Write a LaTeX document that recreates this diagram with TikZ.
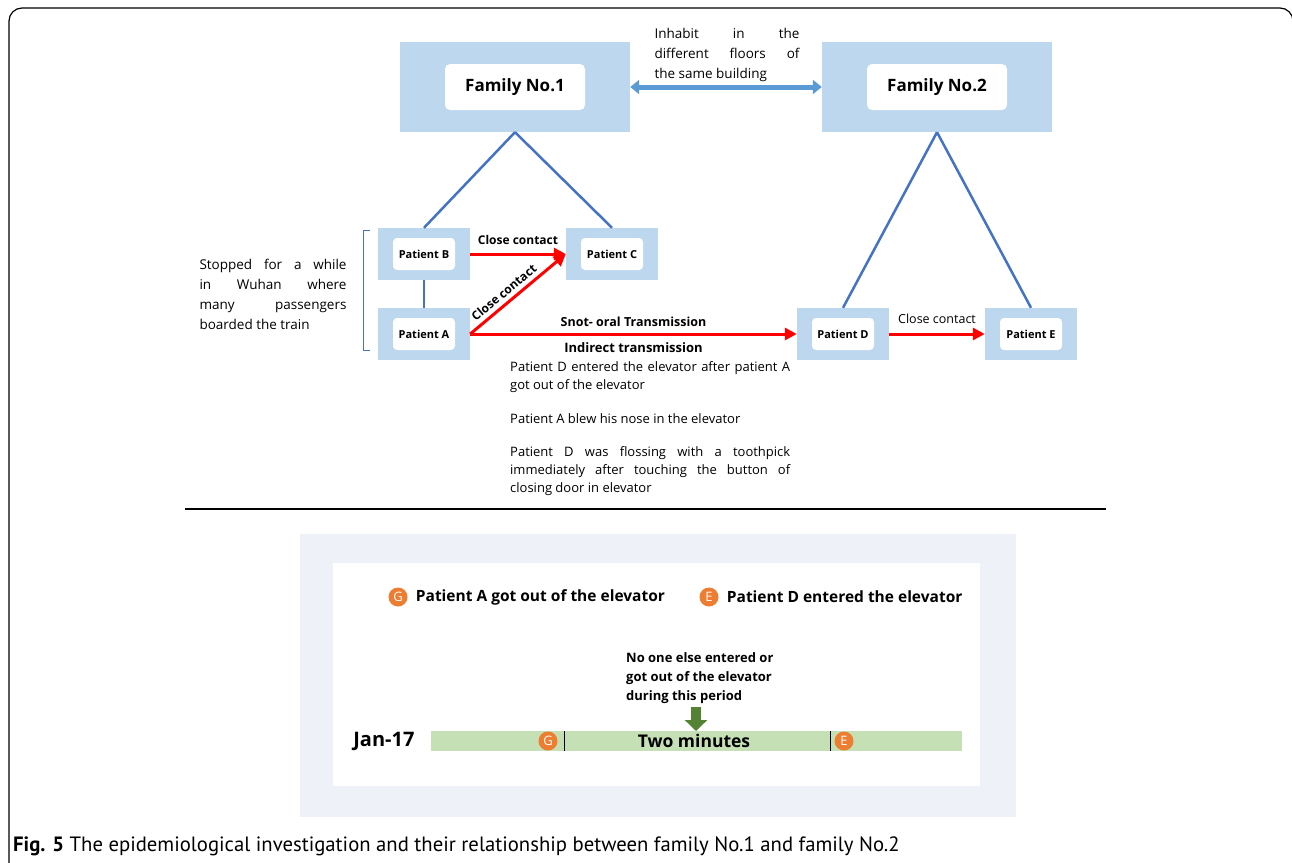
\documentclass[tikz,border=0pt]{standalone}
\usepackage{fontspec}
\setmainfont{Open Sans}
\newfontfamily\capfont{PT Sans}
\usetikzlibrary{arrows.meta,positioning,shapes}

\definecolor{boxblue}{RGB}{189,215,238}
\definecolor{linkblue}{RGB}{68,114,196}
\definecolor{arrowblue}{RGB}{91,155,213}
\definecolor{panelgray}{RGB}{238,242,248}
\definecolor{bargreen}{RGB}{197,224,180}
\definecolor{darkgreen}{RGB}{84,130,53}
\definecolor{markorange}{RGB}{237,125,49}

\hyphenpenalty=10000
\exhyphenpenalty=10000

\begin{document}
\begin{tikzpicture}[x=1pt,y=-1pt]
	\tikzstyle{fambox}=[fill=boxblue, rectangle, minimum width=230, minimum height=90]
	\tikzstyle{famtxt}=[fill=white, rounded corners=5pt, minimum width=140, minimum height=46, font=\fontsize{17}{20}\selectfont\bfseries]
	\tikzstyle{patbox}=[fill=boxblue, rectangle, minimum width=92, minimum height=52]
	\tikzstyle{pattxt}=[fill=white, rounded corners=4pt, minimum width=62, minimum height=32, font=\fontsize{11}{13}\selectfont\bfseries]
	\tikzstyle{link}=[draw=linkblue, line width=2.5pt]
	\tikzstyle{infect}=[draw=red, line width=3pt, -{Triangle[length=12pt,width=12pt]}]
	\tikzstyle{lbl}=[font=\fontsize{12}{15}\selectfont\bfseries, inner sep=2pt]
	\tikzstyle{note}=[font=\fontsize{13}{18}\selectfont, text width=280, align=justify, inner sep=0pt, anchor=north west]
	\tikzstyle{markdot}=[circle, fill=markorange, text=white, inner sep=0pt, minimum size=19, font=\fontsize{13}{13}\selectfont]
	\tikzstyle{legtxt}=[font=\fontsize{15.5}{18}\selectfont\bfseries, inner sep=0pt, anchor=west]

	\useasboundingbox (0,0) rectangle (1292,862);
	\draw[line width=1.2pt, rounded corners=13pt] (9,8) rectangle (1293,885);

	% families
	\node[fambox] (fam1) at (515,87) {};
	\node[famtxt] (fam1t) at (fam1) {Family No.1};
	\node[fambox] (fam2) at (937,87) {};
	\node[famtxt] (fam2t) at (fam2) {Family No.2};
	\draw[arrowblue, line width=5pt, {Triangle[length=9pt,width=14pt]}-{Triangle[length=9pt,width=14pt]}] (fam1) -- (fam2);
	\node[font=\fontsize{13.5}{20}\selectfont, text width=145, align=justify, inner sep=0pt] (inhabit) at (727,55) {Inhabit in the\linebreak different floors of\linebreak the same building};

	% patients
	\node[patbox] (patB) at (424,254) {};
	\node[pattxt] (patBt) at (patB) {Patient B};
	\node[patbox] (patC) at (612,254) {};
	\node[pattxt] (patCt) at (patC) {Patient C};
	\node[patbox] (patA) at (424,334) {};
	\node[pattxt] (patAt) at (patA) {Patient A};
	\node[patbox] (patD) at (843,334) {};
	\node[pattxt] (patDt) at (patD) {Patient D};
	\node[patbox] (patE) at (1031,334) {};
	\node[pattxt] (patEt) at (patE) {Patient E};

	\draw[link] (fam1.south) -- (patB.north);
	\draw[link] (fam1.south) -- (patC.north);
	\draw[link] (fam2.south) -- (patD.north);
	\draw[link] (fam2.south) -- (patE.north);
	\draw[link] (patB.south) -- (patA.north);

	\draw[infect] (patB.east) -- node[lbl, above=6pt] {Close contact} (patC.west);
	\draw[infect] (patA.east) -- node[lbl, above=2pt, sloped, pos=0.42] {Close contact} (patC.west);
	\draw[infect] (patA.east) -- node[lbl, above=4pt, font=\fontsize{12.5}{15}\selectfont\bfseries] {Snot- oral Transmission} node[lbl, below=5pt, font=\fontsize{13}{15}\selectfont\bfseries] {Indirect transmission} (patD.west);
	\draw[infect] (patD.east) -- node[lbl, above=7pt, font=\fontsize{12.5}{15}\selectfont] {Close contact} (patE.west);

	% train stop
	\draw[linkblue, line width=1pt] (370,230) -- (363,230) -- (363,350) -- (370,350);
	\node[font=\fontsize{13.5}{20}\selectfont, text width=147, align=justify, inner sep=0pt] (wuhan) at (273,294) {Stopped for a while\linebreak in Wuhan where\linebreak many passengers\linebreak boarded the train};

	% elevator notes
	\node[note] (note1) at (510,361) {Patient D entered the elevator after patient A\linebreak got out of the elevator};
	\node[note] (note2) at (510,413) {Patient A blew his nose in the elevator};
	\node[note] (note3) at (510,446) {Patient D was flossing with a toothpick\linebreak immediately after touching the button of\linebreak closing door in elevator};

	\coordinate (ruleL) at (185,509);
	\coordinate (ruleR) at (1106,509);
	\draw[line width=1.5pt] (ruleL) -- (ruleR);

	% timeline panel
	\node[fill=panelgray, minimum width=716, minimum height=283, anchor=north west, inner sep=0pt] (panel) at (300,534) {};
	\node[fill=white, minimum width=647, minimum height=223, anchor=north west, inner sep=0pt] (canvas) at (333,563) {};

	\node[markdot] (legG) at (398,597) {G};
	\node[legtxt, right=8 of legG] (legGt) {Patient A got out of the elevator};
	\node[markdot] (legE) at (709,597) {E};
	\node[legtxt, right=8 of legE] (legEt) {Patient D entered the elevator};

	\node[fill=bargreen, minimum width=531, minimum height=20, inner sep=0pt, anchor=west] (bar) at (431,741) {};
	\node[font=\fontsize{20}{22}\selectfont\bfseries, anchor=east] (day) at (418,741) {Jan-17};
	\node[font=\fontsize{17.5}{20}\selectfont\bfseries] (twomin) at (694,741) {Two minutes};
	\node[markdot] (barG) at (548,741) {G};
	\node[markdot] (barE) at (844,741) {E};
	\draw[line width=1pt] (564,731) -- (564,751);
	\draw[line width=1pt] (830,731) -- (830,751);

	\node[font=\fontsize{13}{19}\selectfont\bfseries, align=left, anchor=north west, inner sep=0pt] (period) at (626,652) {No one else entered or\\got out of the elevator\\during this period};
	\coordinate (arrtop) at (696,707);
	\coordinate (arrtip) at (696,731);
	\draw[darkgreen, line width=10pt, -{Triangle[length=11pt,width=22pt]}] (arrtop) -- (arrtip);

	% caption
	\node[font=\capfont\fontsize{20.7}{22}\selectfont, anchor=west, inner sep=0pt] (caption) at (13,846) {\textbf{Fig. 5} The epidemiological investigation and their relationship between family No.1 and family No.2};
\end{tikzpicture}
\end{document}
